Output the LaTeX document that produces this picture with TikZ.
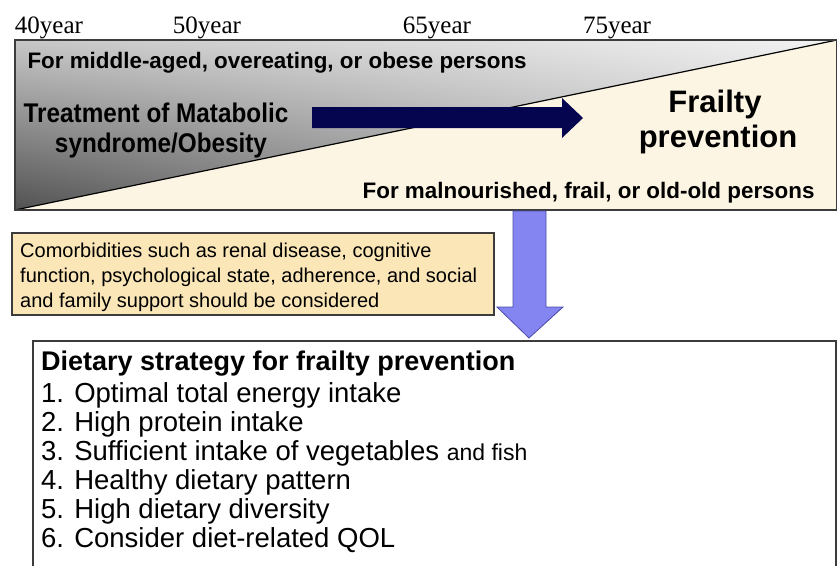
\documentclass[tikz,border=0pt]{standalone}
\usepackage{fontspec}
\setmainfont{Liberation Sans}
\newfontfamily\yearfont{Liberation Serif}
\newfontfamily\narrowfont[FakeStretch=0.9]{Liberation Sans}
\usetikzlibrary{positioning}
\usetikzlibrary{shadings}

\definecolor{cream}{HTML}{FDF5E4}
\definecolor{tanbox}{HTML}{FBE6B7}
\definecolor{navyarrow}{HTML}{05054F}
\definecolor{bluearrow}{HTML}{8585F2}
\definecolor{blueedge}{HTML}{4A4AA8}
\definecolor{edgegray}{HTML}{3C3C3C}

\tikzset{
  year/.style={anchor=base, font=\yearfont\fontsize{25}{25}\selectfont},
  group/.style={anchor=base west, font=\bfseries\fontsize{22.4}{22.4}\selectfont},
  bigtitle/.style={anchor=base, font=\narrowfont\bfseries\fontsize{27}{27}\selectfont},
  frailty/.style={anchor=base, font=\bfseries\fontsize{31}{31}\selectfont},
  noteline/.style={anchor=base west, inner sep=0pt, font=\fontsize{20}{20}\selectfont},
  listline/.style={anchor=base west, inner sep=0pt, font=\fontsize{27.5}{27.5}\selectfont}
}

\begin{document}
\begin{tikzpicture}[x=1pt, y=-1pt]
  \useasboundingbox (0,0) rectangle (837,566);
  % age band
  \shade[upper left=black!22, upper right=black!5, lower left=black!68, lower right=black!25]
    (15,40) -- (837,40) -- (15,210) -- cycle;
  \fill[cream] (837,40) -- (837,210) -- (15,210) -- cycle;
  \draw[black, line width=1.2pt] (15,210) -- (837,40);
  \draw[edgegray, line width=1.5pt] (15,40) rectangle (837,210);

  \node[year] (y40) at (49,33) {40year};
  \node[year] (y50) at (207,33) {50year};
  \node[year] (y65) at (437,33) {65year};
  \node[year] (y75) at (617,33) {75year};

  \node[group] (upper) at (24,68) {For middle-aged, overeating, or obese persons};
  \node[bigtitle] (treat1) at (156,122) {Treatment of Matabolic};
  \node[bigtitle] (treat2) at (161,152) {syndrome/Obesity};
  \node[frailty] (frail1) at (715,112) {Frailty};
  \node[frailty] (frail2) at (718,147) {prevention};
  \node[group, anchor=base east] (lower) at (818,198) {For malnourished, frail, or old-old persons};

  % shift arrow
  \fill[navyarrow] (312,107) -- (562,107) -- (562,98) -- (583,118) -- (562,138) -- (562,128) -- (312,128) -- cycle;

  % comorbidities
  \draw[edgegray, fill=tanbox, line width=1.3pt] (12,233) rectangle (494,315);
  \node[noteline] (note1) at (20,257) {Comorbidities such as renal disease, cognitive};
  \node[noteline] (note2) at (20,282) {function, psychological state, adherence, and social};
  \node[noteline] (note3) at (20,307) {and family support should be considered};

  % down arrow
  \draw[blueedge, fill=bluearrow, line width=0.8pt] (513,211) -- (546,211) -- (546,307) -- (563,307) -- (529,338) -- (497,307) -- (513,307) -- cycle;

  % strategy box
  \draw[edgegray, line width=1.3pt] (33,566) -- (33,341) -- (836,341) -- (836,566);
  \node[listline, font=\bfseries\fontsize{27}{27}\selectfont] (head) at (41,370) {Dietary strategy for frailty prevention};
  \foreach \i/\txt in {1/1. Optimal total energy intake, 2/2. High protein intake,
      3/3. Sufficient intake of vegetables {\fontsize{23}{23}\selectfont and fish}, 4/4. Healthy dietary pattern,
      5/5. High dietary diversity, 6/6. Consider diet-related QOL}
    \node[listline] (item\i) at (41,373+29*\i) {\txt};
\end{tikzpicture}
\end{document}
